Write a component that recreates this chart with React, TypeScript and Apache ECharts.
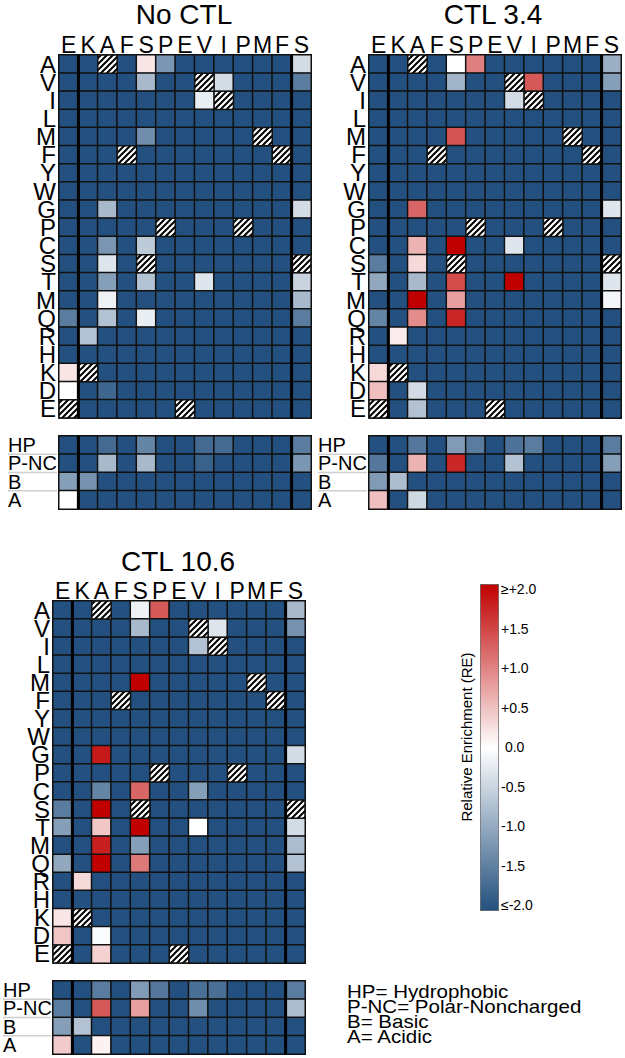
import React, { useEffect, useRef } from 'react';
import * as echarts from 'echarts';

const columnLabels = ['E', 'K', 'A', 'F', 'S', 'P', 'E', 'V', 'I', 'P', 'M', 'F', 'S'];
const rowLabels = ['A', 'V', 'I', 'L', 'M', 'F', 'Y', 'W', 'G', 'P', 'C', 'S', 'T', 'M', 'Q', 'R', 'H', 'K', 'D', 'E'];
const groupLabels = ['HP', 'P-NC', 'B', 'A'];
const panelTitles = ['No CTL', 'CTL 3.4', 'CTL 10.6'];
const legendLines = ['HP= Hydrophobic', 'P-NC= Polar-Noncharged', 'B= Basic', 'A= Acidic'];
const colorBarTitle = 'Relative Enrichment (RE)';
// column boundaries drawn as heavy separators
const separatorColumns = [1, 12];
// row boundaries of the group table that carry a grey guide line under the labels
const groupBoundaries = [1, 2, 3];

const _ = -2; // ≤ -2.0
const W = null; // wild-type residue (hatched)

const noCtlMain = [
  [_, _, W, _, 0.2, -1.2, _, _, _, _, _, _, -0.4],
  [_, _, _, _, -0.8, _, _, W, -0.4, _, _, _, -1.5],
  [_, _, _, _, _, _, _, -0.2, W, _, _, _, _],
  [_, _, _, _, _, _, _, _, _, _, _, _, _],
  [_, _, _, _, -1.3, _, _, _, _, _, W, _, _],
  [_, _, _, W, _, _, _, _, _, _, _, W, _],
  [_, _, _, _, _, _, _, _, _, _, _, _, _],
  [_, _, _, _, _, _, _, _, _, _, _, _, _],
  [_, _, -0.8, _, _, _, _, _, _, _, _, _, -0.4],
  [_, _, _, _, _, W, _, _, _, W, _, _, _],
  [_, _, -1.2, _, -0.6, _, _, _, _, _, _, _, _],
  [_, _, -0.3, _, W, _, _, _, _, _, _, _, W],
  [_, _, -1.1, _, -0.7, _, _, -0.3, _, _, _, _, -0.5],
  [_, _, -0.15, _, _, _, _, _, _, _, _, _, -0.8],
  [-1.5, _, -0.7, _, -0.2, _, _, _, _, _, _, _, -1.5],
  [_, -0.7, _, _, _, _, _, _, _, _, _, _, _],
  [_, _, _, _, _, _, _, _, _, _, _, _, _],
  [0.2, W, _, _, _, _, _, _, _, _, _, _, _],
  [0, _, -1.75, _, _, _, _, _, _, _, _, _, _],
  [W, _, _, _, _, _, W, _, _, _, _, _, _],
];
const noCtlGroups = [
  [_, _, -1.7, _, -1.4, _, _, -1.7, -1.7, _, _, _, -1.5],
  [_, _, -0.8, _, -0.8, _, _, -1.8, _, _, _, _, -1.2],
  [-1.1, -1.25, _, _, _, _, _, _, _, _, _, _, _],
  [0, _, _, _, _, _, _, _, _, _, _, _, _],
];

const ctl34Main = [
  [_, _, W, _, 0, 1.0, _, _, _, _, _, _, -0.9],
  [_, _, _, _, -0.85, _, _, W, 1.3, _, _, _, -1.1],
  [_, _, _, _, _, _, _, -0.4, W, _, _, _, _],
  [_, _, _, _, _, _, _, _, _, _, _, _, _],
  [_, _, _, _, 1.35, _, _, _, _, _, W, _, _],
  [_, _, _, W, _, _, _, _, _, _, _, W, _],
  [_, _, _, _, _, _, _, _, _, _, _, _, _],
  [_, _, _, _, _, _, _, _, _, _, _, _, _],
  [_, _, 1.2, _, _, _, _, _, _, _, _, _, -0.3],
  [_, _, _, _, _, W, _, _, _, W, _, _, _],
  [_, _, 0.6, _, 2, _, _, -0.3, _, _, _, _, _],
  [-1.5, _, 0.3, _, W, _, _, _, _, _, _, _, W],
  [-1.0, _, -0.8, _, 1.4, _, _, 2, _, _, _, _, -0.3],
  [_, _, 2, _, 0.75, _, _, _, _, _, _, _, -0.1],
  [-1.4, _, 0.9, _, 1.7, _, _, _, _, _, _, _, _],
  [_, 0.15, _, _, _, _, _, _, _, _, _, _, _],
  [_, _, _, _, _, _, _, _, _, _, _, _, _],
  [0.3, W, _, _, _, _, _, _, _, _, _, _, _],
  [0.5, _, -0.4, _, _, _, _, _, _, _, _, _, _],
  [W, _, -0.7, _, _, _, W, _, _, _, _, _, _],
];
const ctl34Groups = [
  [_, _, -1.55, _, -1.15, -1.5, _, -1.6, -1.5, _, _, _, -1.5],
  [-1.55, _, 0.6, _, 1.7, _, _, -0.7, _, _, _, _, -1.1],
  [-1.15, -0.75, _, _, _, _, _, _, _, _, _, _, _],
  [0.5, _, -0.45, _, _, _, _, _, _, _, _, _, _],
];

const ctl106Main = [
  [_, _, W, _, -0.15, 1.3, _, _, _, _, _, _, -0.8],
  [_, _, _, _, -0.8, _, _, W, -0.3, _, _, _, -1.25],
  [_, _, _, _, _, _, _, -0.7, W, _, _, _, _],
  [_, _, _, _, _, _, _, _, _, _, _, _, _],
  [_, _, _, _, 2, _, _, _, _, _, W, _, _],
  [_, _, _, W, _, _, _, _, _, _, _, W, _],
  [_, _, _, _, _, _, _, _, _, _, _, _, _],
  [_, _, _, _, _, _, _, _, _, _, _, _, _],
  [_, _, 1.8, _, _, _, _, _, _, _, _, _, -0.4],
  [_, _, _, _, _, W, _, _, _, W, _, _, _],
  [_, _, -1.4, _, 1.2, _, _, -1.1, _, _, _, _, _],
  [-1.5, _, 2, _, W, _, _, _, _, _, _, _, W],
  [-1.1, _, 0.45, _, 2, _, _, 0, _, _, _, _, -0.4],
  [_, _, 1.75, _, -1.1, _, _, _, _, _, _, _, -0.75],
  [-1.0, _, 2, _, 1.05, _, _, _, _, _, _, _, -0.7],
  [_, 0.3, _, _, _, _, _, _, _, _, _, _, _],
  [_, _, _, _, _, _, _, _, _, _, _, _, _],
  [0.2, W, _, _, _, _, _, _, _, _, _, _, _],
  [0.45, _, -0.05, _, _, _, _, _, _, _, _, _, _],
  [W, _, 0.35, _, _, _, W, _, _, _, _, _, _],
];
const ctl106Groups = [
  [_, _, -1.5, _, -1.15, -1.55, _, -1.65, -1.65, _, _, _, -1.5],
  [-1.5, _, 1.3, _, 0.75, _, _, -1.3, _, _, _, _, -0.75],
  [-1.1, -0.7, _, _, _, _, _, _, _, _, _, _, _],
  [0.4, _, 0.1, _, _, _, _, _, _, _, _, _, _],
];

const FONT = "'Liberation Sans', Arial, Helvetica, sans-serif";
const COLORS = ['#23507e', '#ffffff', '#c00000'];

const layout = [
  { main: [59, 55, 252, 363], groups: [59, 436, 252, 73], title: [184, 0], labelGap: 51 },
  { main: [369, 55, 252, 363], groups: [369, 436, 252, 73], title: [493, 0], labelGap: 51 },
  { main: [53, 601, 252, 362], groups: [53, 981, 252, 73], title: [178, 547], labelGap: 50 },
];

function makeHatch() {
  const size = 6;
  const c = document.createElement('canvas');
  c.width = size;
  c.height = size;
  const ctx = c.getContext('2d')!;
  ctx.fillStyle = '#ffffff';
  ctx.fillRect(0, 0, size, size);
  ctx.strokeStyle = '#000000';
  ctx.lineWidth = 2;
  ctx.beginPath();
  ctx.moveTo(0, size);
  ctx.lineTo(size, 0);
  ctx.moveTo(-size / 2, size / 2);
  ctx.lineTo(size / 2, -size / 2);
  ctx.moveTo(size / 2, size * 1.5);
  ctx.lineTo(size * 1.5, size / 2);
  ctx.stroke();
  return { image: c, repeat: 'repeat', imageWidth: size, imageHeight: size };
}

function buildOption() {
  const hatch = makeHatch();
  const panels = [
    [noCtlMain, noCtlGroups],
    [ctl34Main, ctl34Groups],
    [ctl106Main, ctl106Groups],
  ];
  const grids: any[] = [];
  const xAxes: any[] = [];
  const yAxes: any[] = [];
  const series: any[] = [];
  const heatIdx: number[] = [];

  panels.forEach((mats, pi) => {
    mats.forEach((mat, k) => {
      const isMain = k === 0;
      const box = isMain ? layout[pi].main : layout[pi].groups;
      const g = grids.length;
      grids.push({
        left: box[0], top: box[1], width: box[2], height: box[3],
        show: true, borderColor: '#111', borderWidth: 1.5, backgroundColor: 'transparent',
      });
      const cx = xAxes.length;
      xAxes.push({
        type: 'category', gridIndex: g, data: columnLabels, position: 'top',
        axisLine: { show: false }, axisTick: { show: false }, splitLine: { show: false },
        axisLabel: isMain
          ? { show: true, interval: 0, fontSize: 23, lineHeight: 20, color: '#000', fontFamily: FONT, margin: 0 }
          : { show: false },
      });
      const vx = xAxes.length;
      xAxes.push({ type: 'value', gridIndex: g, min: 0, max: 13, show: false });
      const cy = yAxes.length;
      yAxes.push({
        type: 'category', gridIndex: g, data: isMain ? rowLabels : groupLabels, inverse: true,
        axisLine: { show: false }, splitLine: { show: false }, axisTick: { show: false },
        axisLabel: isMain
          ? { show: true, interval: 0, fontSize: 24, lineHeight: 17, color: '#000', fontFamily: FONT, margin: 3 }
          : { show: true, interval: 0, fontSize: 20, lineHeight: 17, color: '#000', fontFamily: FONT, margin: layout[pi].labelGap, align: 'left' },
      });
      const vy = yAxes.length;
      yAxes.push({ type: 'value', gridIndex: g, min: 0, max: 1, show: false });

      const cells: any[] = [];
      const hatched: any[] = [];
      mat.forEach((row, r) => {
        row.forEach((v, c) => {
          if (v === null) hatched.push([c, r]);
          else cells.push([c, r, v]);
        });
      });
      heatIdx.push(series.length);
      series.push({
        type: 'heatmap', xAxisIndex: cx, yAxisIndex: cy, data: cells, z: 2,
        itemStyle: { borderColor: '#111', borderWidth: 1.5 },
        emphasis: { disabled: true }, silent: true,
      });
      if (hatched.length) {
        series.push({
          type: 'custom', xAxisIndex: cx, yAxisIndex: cy, data: hatched, z: 3, silent: true,
          renderItem: (params: any, api: any) => {
            const p = api.coord([api.value(0), api.value(1)]);
            const s = api.size([1, 1]);
            return {
              type: 'rect',
              shape: { x: p[0] - s[0] / 2, y: p[1] - s[1] / 2, width: s[0], height: s[1] },
              style: { fill: hatch, stroke: '#111', lineWidth: 1.5 },
            };
          },
        });
      }
      if (!isMain) {
        const gap = layout[pi].labelGap;
        series.push({
          type: 'custom', xAxisIndex: cx, yAxisIndex: cy, clip: false, silent: true, z: 1,
          data: groupBoundaries.map((b) => [0, b]),
          renderItem: (params: any, api: any) => {
            const p = api.coord([api.value(0), api.value(1)]);
            const s = api.size([1, 1]);
            const y = p[1] - s[1] / 2;
            const xl = p[0] - s[0] / 2;
            return {
              type: 'line',
              shape: { x1: xl - gap, y1: y, x2: xl - 2, y2: y },
              style: { stroke: '#cfcfcf', lineWidth: 1.5 },
            };
          },
        });
      }
      separatorColumns.forEach((sc) => {
        series.push({
          type: 'line', xAxisIndex: vx, yAxisIndex: vy, data: [[sc, 0], [sc, 1]],
          symbol: 'none', silent: true, z: 4, lineStyle: { color: '#000', width: 3 },
        });
      });
    });
  });

  // colour-bar tick axis
  const cbGrid = grids.length;
  grids.push({ left: 480, top: 589, width: 18, height: 316, show: false });
  xAxes.push({ type: 'value', gridIndex: cbGrid, show: false, min: 0, max: 1 });
  yAxes.push({
    type: 'value', gridIndex: cbGrid, min: -2, max: 2, interval: 0.5, position: 'right',
    axisLine: { show: false }, axisTick: { show: false }, splitLine: { show: false },
    axisLabel: {
      show: true, fontSize: 14, color: '#000', fontFamily: FONT, margin: 3, align: 'left',
      formatter: (v: number) =>
        v >= 2 ? '≥+2.0' : v <= -2 ? '≤-2.0' : v > 0 ? '+' + v.toFixed(1) : Math.abs(v) < 1e-9 ? ' 0.0' : v.toFixed(1),
    },
  });

  const graphics: any[] = [
    {
      type: 'text', x: 466, y: 737, rotation: Math.PI / 2, silent: true,
      style: { text: colorBarTitle, fontSize: 15, fontFamily: FONT, fill: '#000', align: 'center', verticalAlign: 'middle' },
    },
  ];
  legendLines.forEach((t, i) => {
    graphics.push({
      type: 'text', x: 347, y: 991.5 + i * 15, scaleX: 1.14, silent: true,
      style: { text: t, fontSize: 18, lineHeight: 14, fontFamily: FONT, fill: '#000', align: 'left', verticalAlign: 'middle' },
    });
  });

  return {
    animation: false,
    backgroundColor: '#ffffff',
    textStyle: { fontFamily: FONT },
    title: panelTitles.map((t, i) => ({
      text: t, left: layout[i].title[0], top: layout[i].title[1], textAlign: 'center', padding: 0,
      textStyle: { fontSize: 28, fontWeight: 'normal', color: '#000', fontFamily: FONT },
    })),
    grid: grids,
    xAxis: xAxes,
    yAxis: yAxes,
    visualMap: {
      type: 'continuous', min: -2, max: 2, seriesIndex: heatIdx, dimension: 2,
      left: 480, top: 584, itemWidth: 18, itemHeight: 326, orient: 'vertical',
      calculable: false, hoverLink: false, padding: 0, borderColor: '#555', borderWidth: 1,
      inRange: { color: COLORS },
    },
    graphic: graphics,
    series,
  };
}

export default function App() {
  const ref = useRef<HTMLDivElement>(null);
  useEffect(() => {
    const chart = echarts.init(ref.current!, null, { renderer: 'svg' });
    chart.setOption(buildOption() as any);
    return () => chart.dispose();
  }, []);
  return (
    <div
      ref={ref}
      style={{ position: 'absolute', left: 0, top: 0, width: 625, height: 1058, background: '#fff' }}
    />
  );
}
